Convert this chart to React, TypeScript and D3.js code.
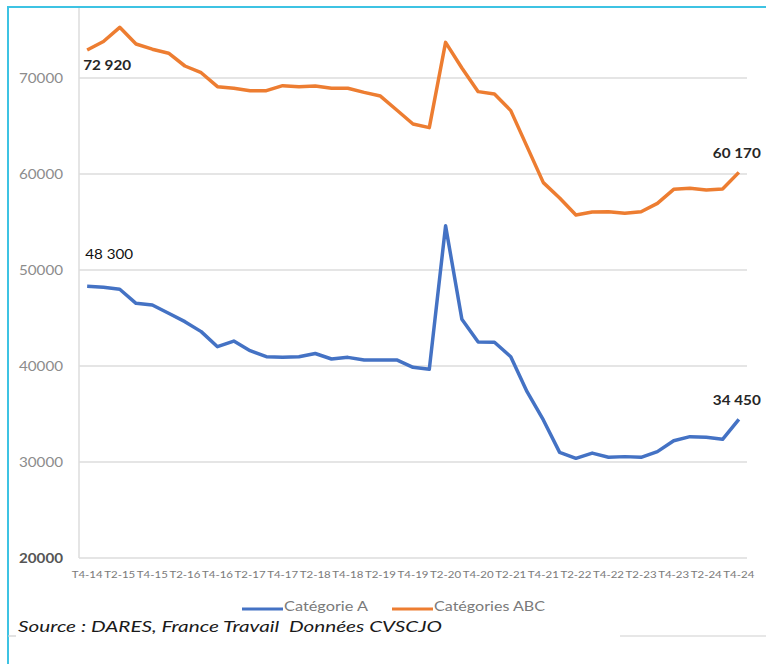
import React from 'react';
import * as d3 from 'd3';

// quarters T4-14 .. T4-24
const quarters = [
  'T4-14', 'T1-15', 'T2-15', 'T3-15', 'T4-15', 'T1-16', 'T2-16', 'T3-16', 'T4-16',
  'T1-17', 'T2-17', 'T3-17', 'T4-17', 'T1-18', 'T2-18', 'T3-18', 'T4-18',
  'T1-19', 'T2-19', 'T3-19', 'T4-19', 'T1-20', 'T2-20', 'T3-20', 'T4-20',
  'T1-21', 'T2-21', 'T3-21', 'T4-21', 'T1-22', 'T2-22', 'T3-22', 'T4-22',
  'T1-23', 'T2-23', 'T3-23', 'T4-23', 'T1-24', 'T2-24', 'T3-24', 'T4-24',
];

const categorieA = [
  48300, 48200, 47990, 46530, 46350, 45490, 44620, 43580, 42010, 42600,
  41600, 40970, 40900, 40970, 41300, 40730, 40900, 40630, 40630, 40630,
  39860, 39650, 54600, 44870, 42500, 42470, 40970, 37320, 34380, 31000,
  30380, 30930, 30490, 30560, 30490, 31080, 32220, 32640, 32570, 32360,
  34450,
];

const categoriesABC = [
  72920, 73800, 75280, 73540, 73000, 72580, 71250, 70550, 69100, 68930,
  68680, 68680, 69200, 69100, 69170, 68930, 68930, 68500, 68120, 66670,
  65210, 64830, 73710, 71040, 68580, 68330, 66600, 62850, 59100, 57500,
  55730, 56040, 56070, 55900, 56070, 56940, 58400, 58510, 58330, 58440,
  60170,
];

const yTicks = [20000, 30000, 40000, 50000, 60000, 70000];
const tickLabels = quarters.filter(q => q.startsWith('T4') || q.startsWith('T2'));

const annotations = [
  { series: 'abc', index: 0, text: '72 920', bold: true },
  { series: 'a', index: 0, text: '48 300', bold: false },
  { series: 'abc', index: 40, text: '60 170', bold: true },
  { series: 'a', index: 40, text: '34 450', bold: true },
];

const BLUE = '#4472C4';
const ORANGE = '#ED7D31';
const FONT = 'Lato, "Open Sans", sans-serif';

export default function App() {
  const width = 766;
  const height = 664;
  const plot = { left: 79, right: 747, bottom: 558 };

  const x = d3.scaleBand<string>().domain(quarters).range([plot.left, plot.right]).padding(0);
  const cx = (q: string) => (x(q) ?? 0) + x.bandwidth() / 2;
  // 80000 sits above the cropped top edge
  const y = d3.scaleLinear().domain([20000, 80000]).range([plot.bottom, plot.bottom - 576]);

  const line = d3.line<number>()
    .x((_, i) => cx(quarters[i]))
    .y(d => y(d));

  const annoPos = (a: typeof annotations[number]) => {
    const v = a.series === 'a' ? categorieA[a.index] : categoriesABC[a.index];
    const px = cx(quarters[a.index]);
    if (a.index === 0) {
      return a.series === 'abc'
        ? { x: px - 4, y: y(v) + 20, anchor: 'start' }
        : { x: px - 2, y: y(v) - 27, anchor: 'start' };
    }
    return { x: px + 22, y: y(v) - 14, anchor: 'end' };
  };

  return (
    <svg width={width} height={height} style={{ position: 'absolute', left: 0, top: 0, background: '#fff' }}>
      {/* frame */}
      <line x1={8} x2={766} y1={7} y2={7} stroke="#3ec3e3" strokeWidth={2} />
      <line x1={8} x2={8} y1={6} y2={664} stroke="#3ec3e3" strokeWidth={2} />

      {/* grid */}
      {yTicks.map(t => (
        <line key={t} x1={plot.left} x2={plot.right} y1={y(t)} y2={y(t)} stroke="#dcdcdc" strokeWidth={1.5} />
      ))}
      <line x1={plot.left} x2={plot.left} y1={8} y2={plot.bottom} stroke="#dcdcdc" strokeWidth={1.5} />

      {/* y labels */}
      {yTicks.map(t => (
        <text key={t} x={19} y={y(t) + 5} fontFamily={FONT} fontSize={13}
          fill={t === 20000 ? '#555' : '#8c8c8c'} fontWeight={t === 20000 ? 700 : 400}
          textLength={44} lengthAdjust="spacingAndGlyphs">
          {String(t)}
        </text>
      ))}

      {/* x labels */}
      {tickLabels.map(q => (
        <text key={q} x={cx(q)} y={578} textAnchor="middle" fontFamily={FONT} fontSize={9}
          fill="#7a7a7a" textLength={31} lengthAdjust="spacingAndGlyphs">
          {q}
        </text>
      ))}

      {/* series */}
      <path d={line(categoriesABC) ?? ''} fill="none" stroke={ORANGE} strokeWidth={3.5} strokeLinejoin="round" />
      <path d={line(categorieA) ?? ''} fill="none" stroke={BLUE} strokeWidth={3.5} strokeLinejoin="round" />

      {/* value labels */}
      {annotations.map((a, i) => {
        const p = annoPos(a);
        return (
          <text key={i} x={p.x} y={p.y} textAnchor={p.anchor as any} fontFamily={FONT}
            fontSize={14} fontWeight={a.bold ? 700 : 400} fill={a.bold ? '#262626' : '#111'}
            textLength={48} lengthAdjust="spacingAndGlyphs">
            {a.text}
          </text>
        );
      })}

      {/* legend */}
      <line x1={242} x2={283} y1={609} y2={609} stroke={BLUE} strokeWidth={3} />
      <text x={284} y={611} fontFamily={FONT} fontSize={13} fill="#7a7a7a" textLength={84} lengthAdjust="spacingAndGlyphs">
        Catégorie A
      </text>
      <line x1={392} x2={433} y1={609} y2={609} stroke={ORANGE} strokeWidth={3} />
      <text x={434} y={611} fontFamily={FONT} fontSize={13} fill="#7a7a7a" textLength={111} lengthAdjust="spacingAndGlyphs">
        Catégories ABC
      </text>

      {/* bottom rule, partly hidden behind the source note */}
      <line x1={8} x2={16} y1={636} y2={636} stroke="#cfcfcf" strokeWidth={1.2} />
      <line x1={620} x2={766} y1={636} y2={636} stroke="#cfcfcf" strokeWidth={1.2} />

      <text x={18} y={632} fontFamily='Lato, "Open Sans", sans-serif' fontStyle="italic" fontSize={16}
        fill="#1a1a1a" textLength={424} lengthAdjust="spacingAndGlyphs" style={{ whiteSpace: 'pre' }}>
        {'Source : DARES, France Travail  Données CVSCJO'}
      </text>
    </svg>
  );
}
